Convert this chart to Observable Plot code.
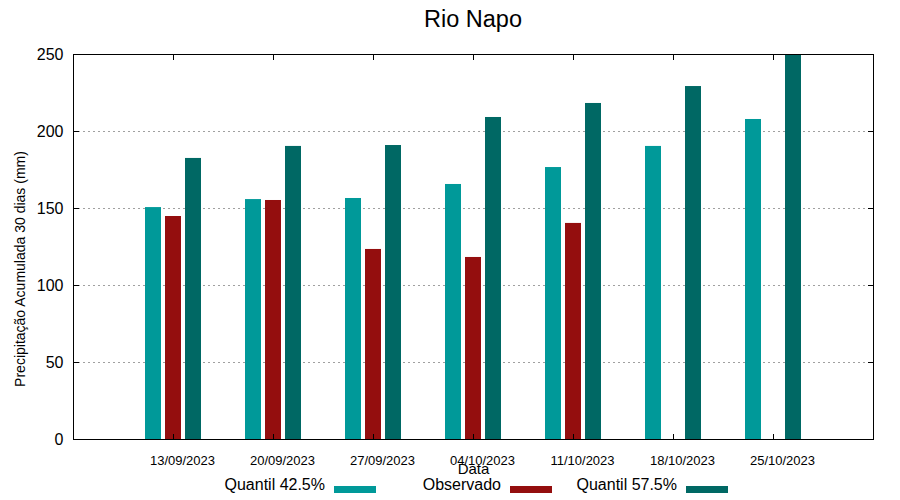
<!DOCTYPE html>
<html>
<head>
<meta charset="utf-8">
<script src="https://cdn.jsdelivr.net/npm/d3@7"></script>
<script src="https://cdn.jsdelivr.net/npm/@observablehq/plot@0.6"></script>
<style>
  body { margin: 0; background: white; font-family: "Liberation Sans", Arial, sans-serif; }
  #wrap { width: 900px; height: 500px; position: relative; overflow: hidden; }
  #title { height: 40px; line-height: 38px; padding-left: 73px; width: 800px; text-align: center; font-size: 23.5px; color: #000; }
  #chart svg { overflow: visible; display: block; }
  #legend { height: 22px; line-height: 16px; display: flex; align-items: center; padding-left: 205px; font-size: 16px; color: #000; position: relative; top: -4px; }
  .item { display: flex; align-items: center; width: 176px; }
  .item .lab { width: 120px; text-align: right; white-space: nowrap; }
  .item .sw { width: 42px; height: 7px; margin-left: 9px; position: relative; top: 4px; }
</style>
</head>
<body>
<div id="wrap">
  <div id="title">Rio Napo</div>
  <div id="chart"></div>
  <div id="legend"></div>
</div>
<script>
const dates = ["13/09/2023","20/09/2023","27/09/2023","04/10/2023","11/10/2023","18/10/2023","25/10/2023"];
const quantil425 = [150.6, 155.8, 156.5, 165.6, 176.6, 190.3, 207.8];
const observado  = [144.8, 155.2, 123.4, 118.2, 140.3, null, null];
const quantil575 = [182.5, 190.3, 190.9, 209.1, 218.2, 229.2, 250];
const yTicks = [0, 50, 100, 150, 200, 250];
const seriesNames = ["Quantil 42.5%", "Observado", "Quantil 57.5%"];
const seriesColors = ["#009999", "#940e0e", "#006864"];

const seriesValues = [quantil425, observado, quantil575];
const offsets = [-0.2, 0, 0.2];
const halfW = 0.08;
const pos = dates.map((d, i) => i + 1);

const rows = [];
seriesValues.forEach((vals, s) => {
  vals.forEach((v, i) => {
    if (v == null) return;
    rows.push({series: seriesNames[s], x1: pos[i] + offsets[s] - halfW, x2: pos[i] + offsets[s] + halfW, y: v});
  });
});

const chart = Plot.plot({
  width: 900,
  height: 438,
  marginTop: 14,
  marginBottom: 39,
  marginLeft: 73,
  marginRight: 27,
  style: {fontFamily: "Liberation Sans, Arial, sans-serif", fontSize: "13px", color: "#000", background: "white"},
  x: {domain: [0, 8], axis: null},
  y: {domain: [0, 250], axis: null},
  color: {domain: seriesNames, range: seriesColors},
  marks: [
    Plot.gridY([50, 100, 150, 200], {stroke: "#a0a0a0", strokeOpacity: 1, strokeDasharray: "2,3", strokeWidth: 1}),
    Plot.rectY(rows, {x1: "x1", x2: "x2", y: "y", fill: "series"}),
    Plot.axisX(pos, {anchor: "bottom", tickSize: -5, fill: "none", label: null, stroke: "#000"}),
    Plot.axisX(pos, {anchor: "top", tickSize: -5, fill: "none", label: null, stroke: "#000"}),
    Plot.axisX(pos, {anchor: "bottom", tickSize: 0, tickPadding: 16, dx: 9, tickFormat: d => dates[d - 1], fontSize: 13, label: null}),
    Plot.axisY(yTicks, {anchor: "left", tickSize: -6, fill: "none", label: null, stroke: "#000"}),
    Plot.axisY(yTicks, {anchor: "right", tickSize: -6, fill: "none", label: null, stroke: "#000"}),
    Plot.axisY(yTicks, {anchor: "left", tickSize: 0, tickPadding: 10, fontSize: 16, label: null}),
    Plot.frame({stroke: "#000", strokeWidth: 1}),
    Plot.text(["Data"], {frameAnchor: "bottom", dy: 34, fontSize: 15, fill: "#000"}),
    Plot.text(["Precipitação Acumulada 30 dias (mm)"], {frameAnchor: "left", textAnchor: "middle", rotate: -90, dx: -53, dy: 22, fontSize: 14, fill: "#000"})
  ]
});
document.getElementById("chart").appendChild(chart);

const legend = document.getElementById("legend");
seriesNames.forEach((name, i) => {
  const item = document.createElement("div");
  item.className = "item";
  const lab = document.createElement("span");
  lab.className = "lab";
  lab.textContent = name;
  const sw = document.createElement("span");
  sw.className = "sw";
  sw.style.background = seriesColors[i];
  item.appendChild(lab);
  item.appendChild(sw);
  legend.appendChild(item);
});
</script>
</body>
</html>
